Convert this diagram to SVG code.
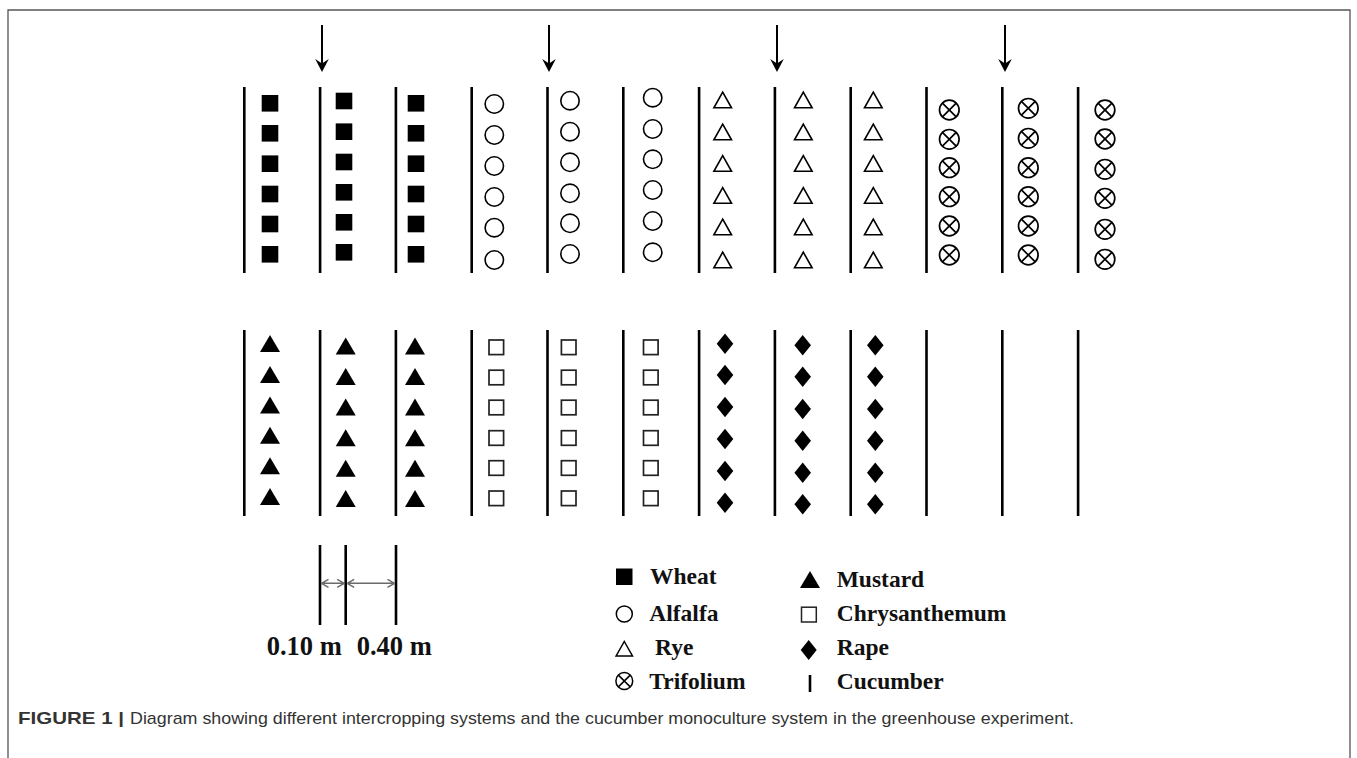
<svg xmlns="http://www.w3.org/2000/svg" xmlns:xlink="http://www.w3.org/1999/xlink" width="1357" height="758" viewBox="0 0 1357 758">
  <style>
    .row { stroke: #000; stroke-width: 2.6; fill: none; }
    .lbl { font-family: "Liberation Serif", "Times New Roman", serif; font-weight: bold; font-size: 23.5px; fill: #111; }
    .scale { font-family: "Liberation Serif", "Times New Roman", serif; font-weight: bold; font-size: 26.5px; fill: #111; }
    .cap { font-family: "Liberation Sans Narrow", "Liberation Sans", Arial, sans-serif; font-size: 17px; fill: #333; }
    .dim { stroke: #6a6a6a; stroke-width: 1.5; fill: none; }
  </style>
  <defs>
    <!-- plant symbols, centred on 0,0 -->
    <rect id="sq-fill" x="-8.3" y="-8.3" width="16.6" height="16.6" fill="#000"/>
    <circle id="circ" r="9.2" fill="none" stroke="#000" stroke-width="1.6"/>
    <path id="tri-open" d="M0,-7.8 L8.8,7.8 L-8.8,7.8 Z" fill="none" stroke="#000" stroke-width="1.6"/>
    <g id="trif" fill="none" stroke="#000" stroke-width="1.7">
      <circle r="9.8"/>
      <path d="M-6.9,-6.9 L6.9,6.9 M6.9,-6.9 L-6.9,6.9"/>
    </g>
    <path id="tri-fill" d="M0,-8.6 L10,8.4 L-10,8.4 Z" fill="#000"/>
    <rect id="sq-open" x="-7.3" y="-7.3" width="14.6" height="14.6" fill="none" stroke="#222" stroke-width="1.7"/>
    <path id="diamond" d="M0,-10.3 L8.3,0 L0,10.3 L-8.3,0 Z" fill="#000"/>
    <!-- sowing arrow, tip at 0,0 -->
    <g id="drop">
      <path d="M0,-47 V-6" stroke="#000" stroke-width="2" fill="none"/>
      <path d="M0,0 L-6.8,-13 L0,-8.5 L6.8,-13 Z" fill="#000"/>
    </g>
  </defs>

  <!-- page frame -->
  <path d="M8,760 V10 H1350 V760" fill="none" stroke="#555" stroke-width="1.3"/>

  <g id="connectors">
    <!-- sowing arrows above the upper bed -->
    <use href="#drop" x="322" y="72"/>
    <use href="#drop" x="549" y="72"/>
    <use href="#drop" x="777" y="72"/>
    <use href="#drop" x="1005" y="72"/>
    <!-- spacing dimensions -->
    <path class="dim" d="M321.5,583.3 H344.2 M321.5,583.3 l7,-4 M321.5,583.3 l7,4 M344.2,583.3 l-7,-4 M344.2,583.3 l-7,4"/>
    <path class="dim" d="M347.2,583.3 H394.5 M347.2,583.3 l7,-4 M347.2,583.3 l7,4 M394.5,583.3 l-7,-4 M394.5,583.3 l-7,4"/>
  </g>

  <!-- cucumber rows, upper bed -->
  <g id="cucumber-upper" class="row">
    <path d="M244.3,87 V273 M320.1,87 V273 M395.9,87 V273 M471.7,87 V273 M547.5,87 V273 M623.3,87 V273 M699.1,87 V273 M774.9,87 V273 M850.7,87 V273 M926.5,87 V273 M1002.3,87 V273 M1078.1,87 V273"/>
  </g>
  <!-- cucumber rows, lower bed -->
  <g id="cucumber-lower" class="row">
    <path d="M244.3,330 V516 M320.1,330 V516 M395.9,330 V516 M471.7,330 V516 M547.5,330 V516 M623.3,330 V516 M699.1,330 V516 M774.9,330 V516 M850.7,330 V516 M926.5,330 V516 M1002.3,330 V516 M1078.1,330 V516"/>
  </g>

  <g id="wheat">
    <use href="#sq-fill" x="270" y="103.3"/><use href="#sq-fill" x="270" y="133.3"/><use href="#sq-fill" x="270" y="163.7"/>
    <use href="#sq-fill" x="270" y="194"/><use href="#sq-fill" x="270" y="224"/><use href="#sq-fill" x="270" y="254.3"/>
    <use href="#sq-fill" x="344" y="101"/><use href="#sq-fill" x="344" y="131.7"/><use href="#sq-fill" x="344" y="162"/>
    <use href="#sq-fill" x="344" y="192.3"/><use href="#sq-fill" x="344" y="222.3"/><use href="#sq-fill" x="344" y="252.3"/>
    <use href="#sq-fill" x="416" y="103.3"/><use href="#sq-fill" x="416" y="133.3"/><use href="#sq-fill" x="416" y="163.7"/>
    <use href="#sq-fill" x="416" y="194"/><use href="#sq-fill" x="416" y="224"/><use href="#sq-fill" x="416" y="254.3"/>
  </g>

  <g id="alfalfa">
    <use href="#circ" x="494.3" y="104"/><use href="#circ" x="494.3" y="135"/><use href="#circ" x="494.3" y="166"/>
    <use href="#circ" x="494.3" y="197"/><use href="#circ" x="494.3" y="227.7"/><use href="#circ" x="494.3" y="260"/>
    <use href="#circ" x="570" y="100.7"/><use href="#circ" x="570" y="131.7"/><use href="#circ" x="570" y="162.3"/>
    <use href="#circ" x="570" y="193.3"/><use href="#circ" x="570" y="223.3"/><use href="#circ" x="570" y="254"/>
    <use href="#circ" x="652.7" y="97.7"/><use href="#circ" x="652.7" y="129"/><use href="#circ" x="652.7" y="159.3"/>
    <use href="#circ" x="652.7" y="190"/><use href="#circ" x="652.7" y="221"/><use href="#circ" x="652.7" y="252.3"/>
  </g>

  <g id="rye">
    <use href="#tri-open" x="722.7" y="100"/><use href="#tri-open" x="722.7" y="132"/><use href="#tri-open" x="722.7" y="163.5"/>
    <use href="#tri-open" x="722.7" y="195.5"/><use href="#tri-open" x="722.7" y="227"/><use href="#tri-open" x="722.7" y="260"/>
    <use href="#tri-open" x="803.3" y="100"/><use href="#tri-open" x="803.3" y="132"/><use href="#tri-open" x="803.3" y="163.5"/>
    <use href="#tri-open" x="803.3" y="195.5"/><use href="#tri-open" x="803.3" y="227"/><use href="#tri-open" x="803.3" y="260"/>
    <use href="#tri-open" x="873.3" y="100"/><use href="#tri-open" x="873.3" y="132"/><use href="#tri-open" x="873.3" y="163.5"/>
    <use href="#tri-open" x="873.3" y="195.5"/><use href="#tri-open" x="873.3" y="227"/><use href="#tri-open" x="873.3" y="260"/>
  </g>

  <g id="trifolium">
    <use href="#trif" x="949.3" y="110"/><use href="#trif" x="949.3" y="139.3"/><use href="#trif" x="949.3" y="167.7"/>
    <use href="#trif" x="949.3" y="196.7"/><use href="#trif" x="949.3" y="226"/><use href="#trif" x="949.3" y="255"/>
    <use href="#trif" x="1028.3" y="108.3"/><use href="#trif" x="1028.3" y="138.3"/><use href="#trif" x="1028.3" y="167.7"/>
    <use href="#trif" x="1028.3" y="196.7"/><use href="#trif" x="1028.3" y="226"/><use href="#trif" x="1028.3" y="255"/>
    <use href="#trif" x="1105" y="110"/><use href="#trif" x="1105" y="139"/><use href="#trif" x="1105" y="169.3"/>
    <use href="#trif" x="1105" y="198.3"/><use href="#trif" x="1105" y="229.3"/><use href="#trif" x="1105" y="259.3"/>
  </g>

  <g id="mustard">
    <use href="#tri-fill" x="270" y="343.7"/><use href="#tri-fill" x="270" y="374.5"/><use href="#tri-fill" x="270" y="405"/>
    <use href="#tri-fill" x="270" y="435.3"/><use href="#tri-fill" x="270" y="465.8"/><use href="#tri-fill" x="270" y="496.7"/>
    <use href="#tri-fill" x="345.7" y="346.2"/><use href="#tri-fill" x="345.7" y="376.7"/><use href="#tri-fill" x="345.7" y="407"/>
    <use href="#tri-fill" x="345.7" y="437.8"/><use href="#tri-fill" x="345.7" y="468.3"/><use href="#tri-fill" x="345.7" y="498.7"/>
    <use href="#tri-fill" x="415" y="346.2"/><use href="#tri-fill" x="415" y="376.7"/><use href="#tri-fill" x="415" y="407"/>
    <use href="#tri-fill" x="415" y="437.8"/><use href="#tri-fill" x="415" y="468.3"/><use href="#tri-fill" x="415" y="498.7"/>
  </g>

  <g id="chrysanthemum">
    <use href="#sq-open" x="496.3" y="347.3"/><use href="#sq-open" x="496.3" y="377.5"/><use href="#sq-open" x="496.3" y="407.5"/>
    <use href="#sq-open" x="496.3" y="438"/><use href="#sq-open" x="496.3" y="468"/><use href="#sq-open" x="496.3" y="498.3"/>
    <use href="#sq-open" x="568.7" y="347.3"/><use href="#sq-open" x="568.7" y="377.5"/><use href="#sq-open" x="568.7" y="407.5"/>
    <use href="#sq-open" x="568.7" y="438"/><use href="#sq-open" x="568.7" y="468"/><use href="#sq-open" x="568.7" y="498.3"/>
    <use href="#sq-open" x="650.8" y="347.3"/><use href="#sq-open" x="650.8" y="377.5"/><use href="#sq-open" x="650.8" y="407.5"/>
    <use href="#sq-open" x="650.8" y="438"/><use href="#sq-open" x="650.8" y="468"/><use href="#sq-open" x="650.8" y="498.3"/>
  </g>

  <g id="rape">
    <use href="#diamond" x="725" y="343.7"/><use href="#diamond" x="725" y="375"/><use href="#diamond" x="725" y="407"/>
    <use href="#diamond" x="725" y="439"/><use href="#diamond" x="725" y="471"/><use href="#diamond" x="725" y="502.7"/>
    <use href="#diamond" x="802.7" y="345.3"/><use href="#diamond" x="802.7" y="376.7"/><use href="#diamond" x="802.7" y="409"/>
    <use href="#diamond" x="802.7" y="440.7"/><use href="#diamond" x="802.7" y="472.7"/><use href="#diamond" x="802.7" y="504.3"/>
    <use href="#diamond" x="875.3" y="345.3"/><use href="#diamond" x="875.3" y="376.7"/><use href="#diamond" x="875.3" y="409"/>
    <use href="#diamond" x="875.3" y="440.7"/><use href="#diamond" x="875.3" y="472.7"/><use href="#diamond" x="875.3" y="504.3"/>
  </g>

  <!-- row spacing scale -->
  <g id="scale-bar">
    <path class="row" d="M320,545 V625 M345.7,545 V625 M396,545 V625"/>
    <text class="scale" x="266.7" y="655">0.10 m</text>
    <text class="scale" x="356.7" y="655">0.40 m</text>
  </g>

  <g id="legend">
    <rect x="616" y="568.5" width="16.5" height="16.5" fill="#000"/>
    <text class="lbl" x="650" y="584">Wheat</text>
    <circle cx="624.3" cy="614" r="8" fill="none" stroke="#000" stroke-width="1.5"/>
    <text class="lbl" x="649.3" y="621">Alfalfa</text>
    <path d="M624.3,641.5 L632.5,656 L616.1,656 Z" fill="none" stroke="#000" stroke-width="1.5"/>
    <text class="lbl" x="655" y="655">Rye</text>
    <g fill="none" stroke="#000" stroke-width="1.5">
      <circle cx="624.3" cy="681" r="8.4"/>
      <path d="M618.4,675.1 L630.2,686.9 M630.2,675.1 L618.4,686.9"/>
    </g>
    <text class="lbl" x="649.3" y="689">Trifolium</text>

    <path d="M810,571 L820,588 L800,588 Z" fill="#000"/>
    <text class="lbl" x="836.7" y="587">Mustard</text>
    <rect x="801.5" y="607.2" width="14.8" height="14.8" fill="none" stroke="#222" stroke-width="1.5"/>
    <text class="lbl" x="836.7" y="621">Chrysanthemum</text>
    <path d="M808.7,640 L816.7,650 L808.7,660 L800.7,650 Z" fill="#000"/>
    <text class="lbl" x="836.7" y="655">Rape</text>
    <path d="M810,675 V692" stroke="#000" stroke-width="2.6"/>
    <text class="lbl" x="836.7" y="689">Cucumber</text>
  </g>

  <g id="caption">
    <text class="cap" x="18" y="724" font-weight="bold" textLength="106" lengthAdjust="spacingAndGlyphs">FIGURE 1 |</text>
    <text class="cap" x="130" y="724" textLength="944" lengthAdjust="spacingAndGlyphs">Diagram showing different intercropping systems and the cucumber monoculture system in the greenhouse experiment.</text>
  </g>
</svg>
